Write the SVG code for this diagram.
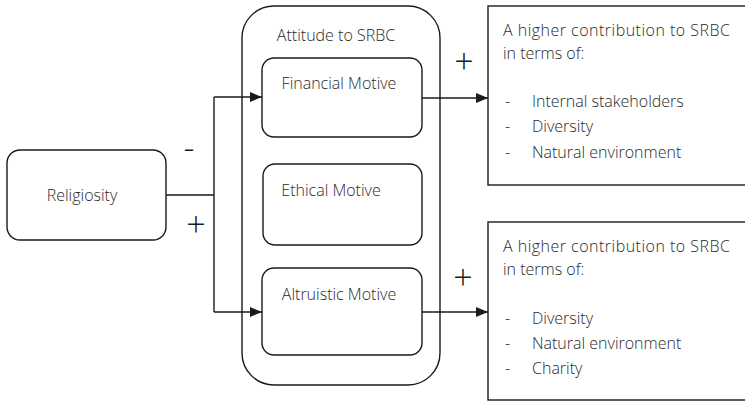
<svg xmlns="http://www.w3.org/2000/svg" width="745" height="402" viewBox="0 0 745 402">
<defs>
<marker id="arr" markerWidth="12" markerHeight="10" refX="12" refY="5" orient="auto" markerUnits="userSpaceOnUse">
<path d="M0,0 L12,5 L0,10 Z" fill="#1a1a1a"/>
</marker>
<style>
.box{fill:#fff;stroke:#1a1a1a;stroke-width:1.4}
.t{font-family:"Open Sans","Noto Sans",sans-serif;font-weight:300;font-size:16px;fill:#2a2a2a}
.sign{font-family:"Open Sans","Noto Sans",sans-serif;font-weight:300;font-size:34px;fill:#1a1a1a}
.c{fill:none;stroke:#1a1a1a;stroke-width:1.4}
</style>
</defs>
<rect width="745" height="402" fill="#fff"/>
<g id="religiosity">
<rect class="box" x="7" y="150" width="159" height="90" rx="13"/>
<text class="t" x="82" y="201" text-anchor="middle">Religiosity</text>
</g>
<g id="attitude">
<rect class="box" x="242" y="6" width="198" height="379" rx="32"/>
<text class="t" x="336" y="41" text-anchor="middle">Attitude to SRBC</text>
</g>
<g id="financial">
<rect class="box" x="262" y="58" width="160" height="79" rx="12"/>
<text class="t" x="339" y="89" text-anchor="middle">Financial Motive</text>
</g>
<g id="ethical">
<rect class="box" x="263" y="164" width="159" height="81" rx="12"/>
<text class="t" x="331" y="196" text-anchor="middle">Ethical Motive</text>
</g>
<g id="altruistic">
<rect class="box" x="262" y="268" width="160" height="87" rx="12"/>
<text class="t" x="339" y="300" text-anchor="middle">Altruistic Motive</text>
</g>
<g id="outcome1">
<rect class="box" x="488" y="6" width="270" height="179"/>
<text class="t" x="503" y="36" textLength="227" lengthAdjust="spacing">A higher contribution to SRBC</text>
<text class="t" x="503" y="59">in terms of:</text>
<text class="t" x="505" y="107">-</text>
<text class="t" x="532" y="107">Internal stakeholders</text>
<text class="t" x="505" y="132">-</text>
<text class="t" x="532" y="132">Diversity</text>
<text class="t" x="505" y="158">-</text>
<text class="t" x="532" y="158">Natural environment</text>
</g>
<g id="outcome2">
<rect class="box" x="488" y="222" width="270" height="178"/>
<text class="t" x="503" y="252" textLength="227" lengthAdjust="spacing">A higher contribution to SRBC</text>
<text class="t" x="503" y="275">in terms of:</text>
<text class="t" x="505" y="324">-</text>
<text class="t" x="532" y="324">Diversity</text>
<text class="t" x="505" y="349">-</text>
<text class="t" x="532" y="349">Natural environment</text>
<text class="t" x="505" y="374">-</text>
<text class="t" x="532" y="374">Charity</text>
</g>
<g id="connectors">
<path class="c" d="M166,195 H214"/>
<path class="c" d="M214,97 V312"/>
<path class="c" d="M214,97 H262" marker-end="url(#arr)"/>
<path class="c" d="M214,312 H262" marker-end="url(#arr)"/>
<path class="c" d="M422,98 H488" marker-end="url(#arr)"/>
<path class="c" d="M422,312 H488" marker-end="url(#arr)"/>
<text class="sign" x="189" y="160" text-anchor="middle">-</text>
<text class="sign" x="196" y="237" text-anchor="middle">+</text>
<text class="sign" x="464" y="74" text-anchor="middle">+</text>
<text class="sign" x="463" y="290" text-anchor="middle">+</text>
</g>
</svg>
